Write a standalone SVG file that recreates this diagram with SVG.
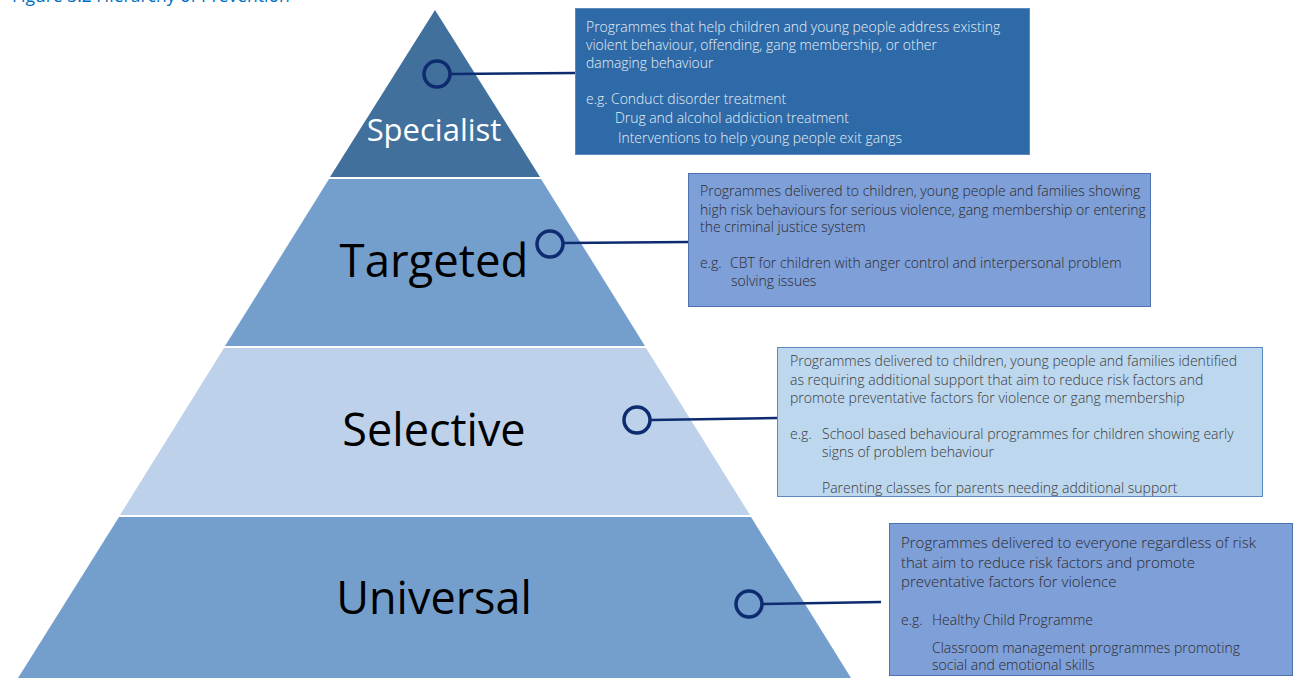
<svg xmlns="http://www.w3.org/2000/svg" width="1298" height="678" viewBox="0 0 1298 678">
<style>
.lbl{font-family:"Open Sans","Noto Sans","Liberation Sans",sans-serif;text-anchor:middle}
.bt{font-family:"Open Sans","Noto Sans","Liberation Sans",sans-serif;font-size:14px;font-weight:300}
.conn line{stroke:#0D2B6E;stroke-width:2.5}
.conn circle{fill:none;stroke:#0D2B6E;stroke-width:3.5}
</style>
<rect width="1298" height="678" fill="#ffffff"/>
<text x="12" y="2" font-family="'Open Sans','Noto Sans',sans-serif" font-size="17.5" fill="#0070C0">Figure 3.2 Hierarchy of Prevention</text>

<g id="tier-specialist">
<polygon points="435,10 540,177 330,177" fill="#41709D"/>
<text class="lbl" x="434" y="141" font-size="31" fill="#ffffff">Specialist</text>
</g>
<g id="tier-targeted">
<polygon points="541,179 645,346 225,346 329,179" fill="#749FCD"/>
<text class="lbl" x="434" y="277" font-size="45.5" fill="#000000">Targeted</text>
</g>
<g id="tier-selective">
<polygon points="646,348 750,515 120,515 224,348" fill="#BDD1EA"/>
<text class="lbl" x="434" y="446" font-size="45" fill="#000000">Selective</text>
</g>
<g id="tier-universal">
<polygon points="751,517 856,686 13,686 119,517" fill="#749FCD"/>
<text class="lbl" x="434" y="614" font-size="45" fill="#000000">Universal</text>
</g>

<g id="box-specialist">
<rect x="575.5" y="8.5" width="454" height="146" fill="#2D6AA7" stroke="#5B8AC0" stroke-width="1"/>
<g class="bt" fill="#E8EEF6" style="font-size:13.9px">
<text x="586" y="32">Programmes that help children and young people address existing</text>
<text x="586" y="50">violent behaviour, offending, gang membership, or other</text>
<text x="586" y="68">damaging behaviour</text>
<text x="586" y="104">e.g. Conduct disorder treatment</text>
<text x="615" y="123">Drug and alcohol addiction treatment</text>
<text x="618" y="143">Interventions to help young people exit gangs</text>
</g>
</g>

<g id="box-targeted">
<rect x="688.5" y="173.5" width="462" height="133" fill="#7F9FD8" stroke="#4D72B0" stroke-width="1"/>
<g class="bt" fill="#2B2B2B">
<text x="700" y="196">Programmes delivered to children, young people and families showing</text>
<text x="700" y="215">high risk behaviours for serious violence, gang membership or entering</text>
<text x="700" y="232">the criminal justice system</text>
<text x="700" y="268">e.g.</text>
<text x="730" y="268">CBT for children with anger control and interpersonal problem</text>
<text x="731" y="286">solving issues</text>
</g>
</g>

<g id="box-selective">
<rect x="777.5" y="347.5" width="485" height="149" fill="#BDD7EE" stroke="#5B8AC0" stroke-width="1"/>
<g class="bt" fill="#3A3A3A">
<text x="790" y="366">Programmes delivered to children, young people and families identified</text>
<text x="790" y="385">as requiring additional support that aim to reduce risk factors and</text>
<text x="790" y="403">promote preventative factors for violence or gang membership</text>
<text x="790" y="439">e.g.</text>
<text x="822" y="439">School based behavioural programmes for children showing early</text>
<text x="822" y="457">signs of problem behaviour</text>
<text x="822" y="493">Parenting classes for parents needing additional support</text>
</g>
</g>

<g id="box-universal">
<rect x="889.5" y="523.5" width="403" height="152" fill="#7F9FD8" stroke="#4D72B0" stroke-width="1"/>
<g class="bt" fill="#2B2B2B" style="font-size:15px">
<text x="901" y="548">Programmes delivered to everyone regardless of risk</text>
<text x="901" y="568">that aim to reduce risk factors and promote</text>
<text x="901" y="587">preventative factors for violence</text>
<text x="901" y="625" style="font-size:14px">e.g.</text>
<text x="932" y="625" style="font-size:14px">Healthy Child Programme</text>
<text x="932" y="653" style="font-size:14px">Classroom management programmes promoting</text>
<text x="932" y="670" style="font-size:14px">social and emotional skills</text>
</g>
</g>

<g id="connectors" class="conn">
<line x1="451" y1="74" x2="575" y2="73"/>
<circle cx="437" cy="74" r="13"/>
<line x1="564" y1="243" x2="688" y2="242"/>
<circle cx="550" cy="244" r="13"/>
<line x1="651" y1="420" x2="777" y2="418"/>
<circle cx="637" cy="420" r="13"/>
<line x1="763" y1="604" x2="881" y2="602"/>
<circle cx="749" cy="604" r="13"/>
</g>
</svg>
